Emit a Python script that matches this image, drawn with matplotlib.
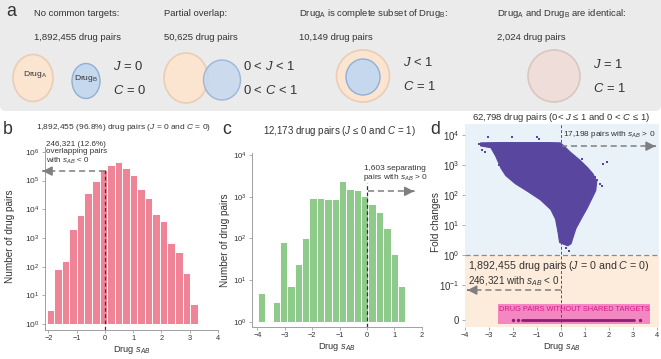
import numpy as np
import matplotlib
matplotlib.use("Agg")
import matplotlib.pyplot as plt
from matplotlib import font_manager
from matplotlib.patches import Ellipse, Rectangle, FancyBboxPatch
from matplotlib.ticker import NullLocator, FixedLocator, FixedFormatter

# ---------------- data ----------------
b_bin_edges = [-2.06, -1.79, -1.53, -1.26, -0.99, -0.73, -0.46, -0.19, 0.08, 0.34,
               0.61, 0.88, 1.14, 1.41, 1.68, 1.95, 2.21, 2.48, 2.75, 3.01, 3.28]
b_counts = [3, 81, 162, 2040, 6460, 35500, 100000, 240000, 339000, 437000,
            269000, 158000, 52500, 25700, 6760, 3890, 676, 331, 58, 5]

c_bin_edges = [-3.99, -3.72, -3.45, -3.18, -2.91, -2.64, -2.37, -2.10, -1.83, -1.56,
               -1.29, -1.02, -0.76, -0.49, -0.22, 0.05, 0.32, 0.59, 0.86, 1.13, 1.40]
c_counts = [5, 0, 3, 83, 7, 24, 100, 950, 910, 880,
            880, 2400, 1520, 1420, 1070, 665, 437, 174, 42, 7]

# panel d: outline of the dense point cloud (x, log10 fold change) and isolated points
d_cloud_x = [-3.35, -2.5, -1.5, -0.5, -0.02, 0.1, 0.4, 0.8, 1.1, 1.35, 1.5,
             1.46, 1.32, 1.1, 0.86, 0.63, 0.5, 0.43, 0.3, 0.15, -0.05, -0.12,
             -0.22, -0.42, -0.85, -1.4, -1.9, -2.3, -2.5, -2.72, -2.92, -3.35]
d_cloud_log10fc = [3.74, 3.75, 3.75, 3.75, 3.74, 3.66, 3.43, 3.16, 2.93, 2.7, 2.45,
                   2.15, 1.92, 1.56, 1.22, 0.88, 0.56, 0.38, 0.31, 0.35, 0.42, 0.78,
                   1.2, 1.52, 1.84, 2.13, 2.38, 2.65, 2.9, 3.3, 3.58, 3.64]
d_outlier_x = [-3.03, -2.05, -1.0, -0.9, -3.42, -3.28, -3.18, 1.78, 1.92, 1.52,
               1.62, 1.7, 0.35, 0.22, 1.25, 1.42, 0.9, -2.6]
d_outlier_log10fc = [3.95, 3.95, 3.95, 3.88, 3.69, 3.5, 3.44, 3.05, 3.09, 2.5,
                     2.38, 2.3, 0.12, 0.22, 2.62, 2.6, 3.2, 3.0]
d_zero_x = [-2.0, -1.78, 3.29]
d_zero_span = [-1.6, 3.04]

d_ytick_vals = [1e4, 1e3, 1e2, 1e1, 1e0, 1e-1]
d_ytick_labels = ['$10^{4}$', '$10^{3}$', '$10^{2}$', '$10^{1}$', '$10^{0}$', '$10^{-1}$', '0']

# ---------------- fonts ----------------
avail = {f.name for f in font_manager.fontManager.ttflist}
FONT = 'DejaVu Sans'
for cand in ['Liberation Sans Narrow', 'Liberation Sans', 'Arimo']:
    if cand in avail:
        FONT = cand
        break
SC = 1.0 if FONT == 'Liberation Sans Narrow' else 0.85
plt.rcParams['font.family'] = [FONT, 'DejaVu Sans']
plt.rcParams['mathtext.fontset'] = 'custom'
plt.rcParams['mathtext.rm'] = FONT
plt.rcParams['mathtext.it'] = FONT + ':italic'
plt.rcParams['mathtext.bf'] = FONT + ':bold'
plt.rcParams['text.color'] = '#333333'

W, H = 661, 359
fig = plt.figure(figsize=(W / 100, H / 100), dpi=100)


def fp(x, y):
    return x / W, 1 - y / H


def ftext(x, y, s, size, **kw):
    kw.setdefault('ha', 'left')
    kw.setdefault('va', 'center')
    fig.text(*fp(x, y), s, fontsize=size * SC, **kw)


# overlay for schematic panel a
ax0 = fig.add_axes([0, 0, 1, 1], zorder=0)
ax0.set_xlim(0, W)
ax0.set_ylim(H, 0)
ax0.axis('off')
ax0.add_patch(FancyBboxPatch((0, -10), W, 121, boxstyle='round,pad=0,rounding_size=6',
                             color='#ebebeb', lw=0))

ORF, ORE = '#fbe4d0', '#e9cdb5'
BLF, BLE = '#c6d8ee', '#91afd5'
ax0.add_patch(Ellipse((33, 78), 40, 47, fc=ORF, ec=ORE, lw=1.2))
ax0.add_patch(Ellipse((86, 81), 28, 35, fc=BLF, ec=BLE, lw=1.0))
ax0.add_patch(Ellipse((186, 78), 44, 50, fc=ORF, ec=ORE, lw=1.2))
ax0.add_patch(Ellipse((222, 80), 37, 40, fc=BLF, ec=BLE, lw=1.0, alpha=0.85))
ax0.add_patch(Ellipse((363, 76), 53, 52, fc=ORF, ec=ORE, lw=1.2))
ax0.add_patch(Ellipse((363, 77), 34, 36, fc=BLF, ec=BLE, lw=1.0))
ax0.add_patch(Ellipse((554, 76), 52, 52, fc='#eeddd8', ec='#d9c6c0', lw=1.2))

HF = 8.0
ftext(34, 13, 'No common targets:', HF)
ftext(34, 38, '1,892,455 drug pairs', HF)
ftext(164, 13, 'Partial overlap:', HF)
ftext(164, 38, '50,625 drug pairs', HF)
ftext(299, 13, r'Drug$_{\mathrm{A}}$ is complete subset of Drug$_{\mathrm{B}}$:', HF)
ftext(299, 38, '10,149 drug pairs', HF)
ftext(497, 13, r'Drug$_{\mathrm{A}}$ and Drug$_{\mathrm{B}}$ are identical:', HF)
ftext(497, 38, '2,024 drug pairs', HF)
ftext(35, 74, r'Drug$_{\mathrm{A}}$', 7.2, ha='center')
ftext(86, 78, r'Drug$_{\mathrm{B}}$', 7.2, ha='center')
JF = 11
ftext(113, 67, r'$J$ = 0', JF)
ftext(113, 90, r'$C$ = 0', JF)
ftext(243, 67, r'0 < $J$ < 1', JF)
ftext(243, 90, r'0 < $C$ < 1', JF)
ftext(403, 62, r'$J$ < 1', JF)
ftext(403, 86, r'$C$ = 1', JF)
ftext(593, 64, r'$J$ = 1', JF)
ftext(593, 88, r'$C$ = 1', JF)

LF = 15
ftext(11, 12, 'a', LF, ha='center')
ftext(8, 130, 'b', LF, ha='center')
ftext(227, 130, 'c', LF, ha='center')
ftext(435, 130, 'd', LF, ha='center')

GRAY = '#7f7f7f'
SPINE = '#a0a0a0'


def style_axes(ax, ylab=6.2):
    for s in ['top', 'right']:
        ax.spines[s].set_visible(False)
    for s in ['left', 'bottom']:
        ax.spines[s].set_color(SPINE)
        ax.spines[s].set_linewidth(0.7)
    ax.tick_params(axis='both', which='major', length=2.5, width=0.6, color=SPINE,
                   pad=1.5, labelsize=6.2 * SC, labelcolor='#333333')
    ax.tick_params(axis='y', labelsize=ylab * SC)
    ax.yaxis.set_minor_locator(NullLocator())
    ax.xaxis.set_minor_locator(NullLocator())


def dashed_arrow(ax, x0, x1, y, color=GRAY, lw=1.1):
    ax.plot([x0, x1], [y, y], ls=(0, (4, 2.5)), color=color, lw=lw, clip_on=False,
            solid_capstyle='butt', dash_capstyle='butt')
    d = 0.02 if x1 > x0 else -0.02
    ax.annotate('', xy=(x1, y), xytext=(x1 - d, y), annotation_clip=False,
                arrowprops=dict(arrowstyle='-|>,head_length=0.55,head_width=0.28',
                                color=color, lw=lw, shrinkA=0, shrinkB=0))


# ---------------- panel b ----------------
axb = fig.add_axes([45 / W, 1 - 329.5 / H, 173 / W, 182.5 / H], zorder=2)
be = np.array(b_bin_edges)
bc = np.array(b_counts, dtype=float)
axb.bar(be[:-1], bc - 1, width=np.diff(be), bottom=1, align='edge',
        color='#ee8496', edgecolor='white', linewidth=0.7)
axb.set_yscale('log')
axb.set_ylim(10 ** -0.19, 10 ** 6.17)
axb.set_xlim(-2.12, 4.0)
axb.yaxis.set_major_locator(FixedLocator([1e0, 1e1, 1e2, 1e3, 1e4, 1e5, 1e6]))
axb.set_xticks([-2, -1, 0, 1, 2, 3, 4])
style_axes(axb, ylab=7.0)
axb.plot([0, 0], [10 ** -0.19, 10 ** 5.45], ls=(0, (3, 2)), color='#5a2a35', lw=0.9)
dashed_arrow(axb, 0.0, -2.2, 10 ** 5.33)
axb.text(-2.08, 10 ** 5.95, '246,321 (12.6%)\noverlapping pairs\nwith $s_{AB}$ < 0',
         fontsize=6.8 * SC, ha='left', va='center', linespacing=1.05)

ftext(124, 128, r'1,892,455 (96.8%) drug pairs ($J$ = 0 and $C$ = 0)', 7.1, ha='center')
ftext(10, 236, 'Number of drug pairs', 8.5, ha='center', rotation=90)
ftext(131.5, 350, r'Drug $s_{AB}$', 7.9, ha='center')

# ---------------- panel c ----------------
axc = fig.add_axes([252.3 / W, 1 - 326.7 / H, 169.4 / W, 173.7 / H], zorder=2)
ce = np.array(c_bin_edges)
cc = np.array(c_counts, dtype=float)
m = cc > 0
axc.bar(ce[:-1][m], cc[m] - 1, width=np.diff(ce)[m], bottom=1, align='edge',
        color='#8ecb8b', edgecolor='white', linewidth=0.7)
axc.set_yscale('log')
axc.set_ylim(10 ** -0.12, 10 ** 4.05)
axc.set_xlim(-4.19, 2.0)
axc.yaxis.set_major_locator(FixedLocator([1e0, 1e1, 1e2, 1e3, 1e4]))
axc.set_xticks([-4, -3, -2, -1, 0, 1, 2])
style_axes(axc, ylab=6.6)
axc.plot([0, 0], [10 ** -0.12, 10 ** 3.32], ls=(0, (3, 2)), color='#1f3a25', lw=0.9)
dashed_arrow(axc, 0.05, 1.72, 10 ** 3.13)
axc.text(1.03, 10 ** 3.55, '1,603 separating\npairs with $s_{AB}$ > 0',
         fontsize=7.0 * SC, ha='center', va='center', linespacing=1.05)

ftext(339, 131.5, r'12,173 drug pairs ($J$ ≤ 0 and $C$ = 1)', 8.3, ha='center')
ftext(225, 240, 'Number of drug pairs', 8.5, ha='center', rotation=90)
ftext(337, 347, r'Drug $s_{AB}$', 7.9, ha='center')

# ---------------- panel d ----------------
YB, YT = 10 ** -2.39, 10 ** 4.37
ZERO = 10 ** -2.17
axd = fig.add_axes([465 / W, 1 - 326.7 / H, 194 / W, 202.7 / H], zorder=2)
axd.set_yscale('log')
axd.set_ylim(YB, YT)
axd.set_xlim(-4, 4.1)
axd.axhspan(1, YT, color='#e9f2f9', lw=0, zorder=0)
axd.axhspan(YB, 1, color='#fdecdb', lw=0, zorder=0)
PURPLE = '#58469f'
axd.fill(d_cloud_x, 10 ** np.array(d_cloud_log10fc), color=PURPLE, lw=0.8, zorder=2)
axd.scatter(d_outlier_x, 10 ** np.array(d_outlier_log10fc), s=3, marker='s',
            color=PURPLE, lw=0, zorder=2)
axd.axhline(1, color='#8a8a8a', ls=(0, (4, 2.5)), lw=0.9, zorder=3)
axd.axvline(0, color='#555555', ls=(0, (3, 2)), lw=0.7, zorder=3)
axd.add_patch(Rectangle((-2.61, 10 ** -2.3), 6.35, 10 ** -1.64 - 10 ** -2.3,
                        facecolor='#f27cc0', edgecolor='none', alpha=0.9, zorder=2))
axd.text(0.56, 10 ** -1.83, 'DRUG PAIRS WITHOUT SHARED TARGETS', color='#d81b8a',
         fontsize=6.3 * SC, ha='center', va='center', zorder=4)
MAG = '#8d1d70'
axd.plot(d_zero_span, [ZERO, ZERO], color=MAG, lw=2.0, solid_capstyle='round', zorder=4)
axd.scatter(d_zero_x, [ZERO] * len(d_zero_x), s=6, color=MAG, lw=0, zorder=4)
axd.yaxis.set_major_locator(FixedLocator(d_ytick_vals + [ZERO]))
axd.yaxis.set_major_formatter(FixedFormatter(d_ytick_labels))
axd.set_xticks([-4, -3, -2, -1, 0, 1, 2, 3, 4])
style_axes(axd, ylab=8.2)
axd.spines['left'].set_visible(False)
axd.spines['bottom'].set_visible(False)

axd.text(-0.1, 10 ** -0.37, r'1,892,455 drug pairs ($J$ = 0 and $C$ = 0)', fontsize=9 * SC,
         ha='center', va='center', zorder=5)
axd.text(-3.88, 10 ** -0.88, r'246,321 with $s_{AB}$ < 0', fontsize=8.4 * SC,
         ha='left', va='center', zorder=5)
dashed_arrow(axd, 0.0, -3.9, 10 ** -1.17)
axd.text(0.08, 10 ** 4.02, r'17,198 pairs with $s_{AB}$ > 0', fontsize=7.0 * SC,
         ha='left', va='center', zorder=5)
dashed_arrow(axd, 0.0, 3.95, 10 ** 3.63)

ftext(561, 117, r'62,798 drug pairs (0< $J$ ≤ 1 and 0 < $C$ ≤ 1)', 8.0, ha='center')
ftext(436, 222, 'Fold changes', 8.5, ha='center', rotation=90)
ftext(562, 347, r'Drug $s_{AB}$', 7.9, ha='center')

fig.savefig('out.png', dpi=100)
